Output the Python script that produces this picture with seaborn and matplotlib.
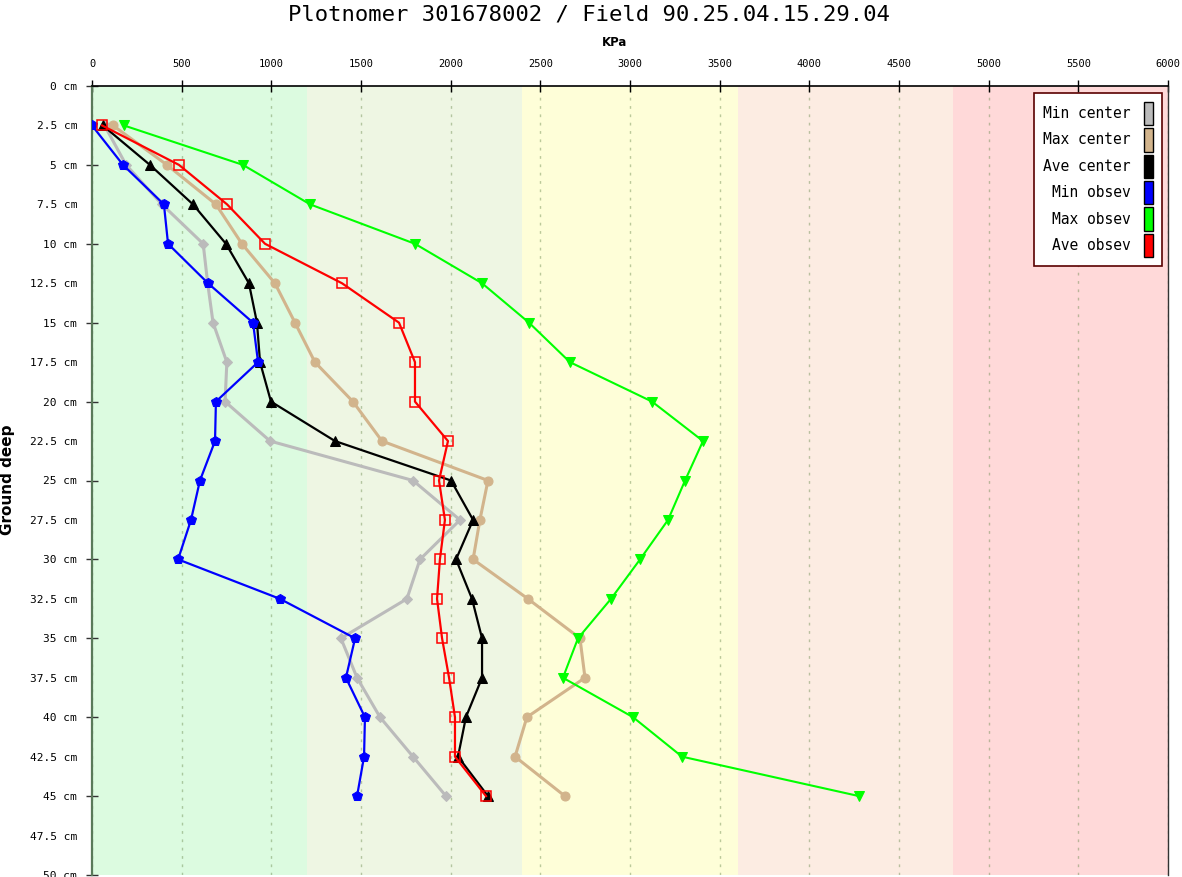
import matplotlib
matplotlib.use("Agg")
import matplotlib.pyplot as plt
import seaborn as sns
import numpy as np
from matplotlib.patches import Patch

# ---------------- data ----------------
depth_cm = [2.5, 5, 7.5, 10, 12.5, 15, 17.5, 20, 22.5, 25, 27.5, 30, 32.5, 35, 37.5, 40, 42.5, 45]

min_center = [70, 190, 390, 620, 645, 675, 752, 742, 993, 1790, 2052, 1829, 1756, 1388, 1478, 1606, 1790, 1974]
max_center = [117, 418, 691, 836, 1020, 1132, 1243, 1455, 1617, 2208, 2163, 2125, 2431, 2721, 2749, 2425, 2359, 2637]
ave_center = [60, 323, 563, 747, 875, 920, 937, 998, 1355, 2002, 2125, 2030, 2119, 2175, 2175, 2085, 2041, 2208]
min_obsev = [0, 173, 401, 424, 647, 898, 926, 691, 686, 602, 552, 480, 1048, 1467, 1416, 1522, 1517, 1478]
max_obsev = [178, 842, 1216, 1801, 2175, 2437, 2665, 3123, 3407, 3307, 3212, 3056, 2894, 2710, 2626, 3017, 3290, 4277]
ave_obsev = [56, 485, 753, 965, 1394, 1712, 1801, 1801, 1985, 1935, 1968, 1940, 1924, 1952, 1991, 2024, 2024, 2197]

series_labels = ["Min center", "Max center", "Ave center", "Min obsev", "Max obsev", "Ave obsev"]
series_values = [min_center, max_center, ave_center, min_obsev, max_obsev, ave_obsev]
series_colors = ["#bbbbbb", "#d2b48c", "#000000", "#0000ff", "#00ff00", "#ff0000"]

zone_edges = [0, 1200, 2400, 3600, 4800, 6000]
zone_colors = ["#dcfbe0", "#eef6e3", "#fefed8", "#fcece2", "#ffd9d9"]

x_ticks = [0, 500, 1000, 1500, 2000, 2500, 3000, 3500, 4000, 4500, 5000, 5500, 6000]
y_major = [0, 5, 10, 15, 20, 25, 30, 35, 40, 45, 50]
y_minor = [2.5, 7.5, 12.5, 17.5, 22.5, 27.5, 32.5, 37.5, 42.5, 47.5]

title_text = "Plotnomer 301678002 / Field 90.25.04.15.29.04"

# ---------------- styles ----------------
styles = [
    dict(marker="D", markersize=5, linewidth=2.2, markerfacecolor="#bbbbbb", markeredgecolor="#bbbbbb"),
    dict(marker="o", markersize=6.5, linewidth=2.2, markerfacecolor="#d2b48c", markeredgecolor="#d2b48c"),
    dict(marker="^", markersize=6.5, linewidth=1.6, markerfacecolor="#000000", markeredgecolor="#000000"),
    dict(marker="p", markersize=7.5, linewidth=1.6, markerfacecolor="#0000ff", markeredgecolor="#0000ff"),
    dict(marker="v", markersize=7, linewidth=1.5, markerfacecolor="#00ff00", markeredgecolor="#00ff00"),
    dict(marker="s", markersize=7, linewidth=1.6, markerfacecolor="none", markeredgecolor="#ff0000", markeredgewidth=1.1),
]

mono = "DejaVu Sans Mono"

fig = plt.figure(figsize=(11.82, 8.77), dpi=100)
W, H = 1182, 877
ax = fig.add_axes([92 / W, 2 / H, 1076 / W, 789 / H])
ax.set_facecolor("white")

for i in range(len(zone_colors)):
    ax.axvspan(zone_edges[i], zone_edges[i + 1], color=zone_colors[i], zorder=0, lw=0)

ax.set_xlim(0, 6000)
ax.set_ylim(50, 0)
ax.set_axisbelow(True)
ax.xaxis.grid(True, linestyle=(0, (2, 4)), color="#6b8a4f", alpha=0.45, linewidth=1.0, zorder=1)
ax.yaxis.grid(False)

for vals, col, st in zip(series_values, series_colors, styles):
    sns.lineplot(x=vals, y=depth_cm, orient="y", estimator=None, color=col, ax=ax,
                 legend=False, zorder=3, **st)

# ticks on top
ax.xaxis.set_ticks_position("top")
ax.set_xticks(x_ticks)
ax.set_xticklabels([str(v) for v in x_ticks], fontfamily=mono, fontsize=7.5)
ax.tick_params(axis="x", which="major", direction="inout", length=9, width=1, color="black", pad=7.5)

ax.set_yticks(y_major)
ax.set_yticklabels([f"{v:g} cm" for v in y_major], fontfamily=mono, fontsize=8)
ax.set_yticks(y_minor, minor=True)
ax.set_yticklabels([f"{v:g} cm" for v in y_minor], minor=True, fontfamily=mono, fontsize=8)
ax.tick_params(axis="y", which="major", direction="inout", length=9, width=1, color="#333333", pad=6.5)
ax.tick_params(axis="y", which="minor", direction="inout", length=0, pad=10.5)

ax.spines["bottom"].set_visible(False)
ax.spines["top"].set_color("black")
ax.spines["top"].set_linewidth(1.2)
ax.spines["left"].set_color("#5a7a5a")
ax.spines["left"].set_linewidth(1.6)
ax.spines["right"].set_color("#333333")
ax.spines["right"].set_linewidth(1.0)

ax.set_xlabel("")
ax.set_ylabel("")

fig.text(589 / W, 1 - 14 / H, title_text, ha="center", va="center", fontfamily=mono, fontsize=16)
fig.text(615 / W, 1 - 43 / H, "KPa", ha="center", va="center", fontweight="bold", fontsize=8.5,
         fontfamily="DejaVu Sans")
fig.text(8 / W, 1 - 480 / H, "Ground deep", ha="center", va="center", rotation=90,
         fontweight="bold", fontsize=11, fontfamily="DejaVu Sans")

handles = [Patch(facecolor=c, edgecolor="black", linewidth=1.0) for c in series_colors]
leg = ax.legend(handles, series_labels, loc="upper right",
                bbox_to_anchor=(1162 / W, 1 - 93 / H), bbox_transform=fig.transFigure,
                borderaxespad=0, markerfirst=False, frameon=True, fancybox=False,
                prop={"family": mono, "size": 10.5}, handlelength=0.65, handleheight=2.1,
                handletextpad=0.9, labelspacing=0.2, borderpad=0.6, framealpha=1)
leg.get_frame().set_edgecolor("#5a0000")
leg.get_frame().set_linewidth(1.2)
leg.set_zorder(5)

fig.savefig("out.png", dpi=100)
